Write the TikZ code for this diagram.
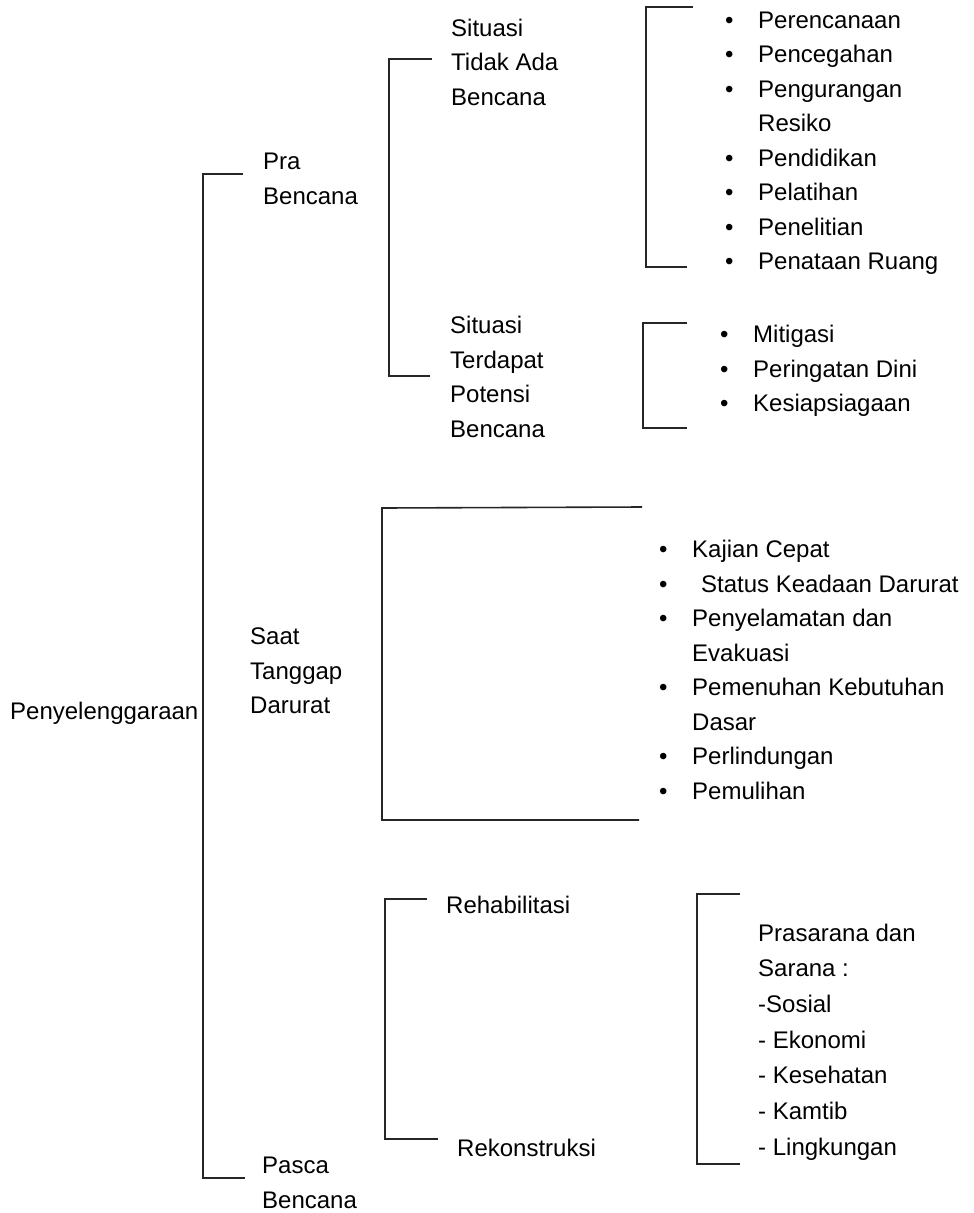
\documentclass[tikz,border=0pt]{standalone}
\usepackage{fontspec}
\setmainfont{Liberation Sans}
\newcommand{\bl}{\makebox[33pt][l]{\textbullet}}
\newcommand{\nb}{\hspace*{33pt}}
\begin{document}
\begin{tikzpicture}[x=1pt,y=-1pt,
  lbl/.style={font=\fontsize{24}{34.5}\selectfont, align=left, inner sep=0pt, anchor=west, text=black},
  brk/.style={line width=1.6pt, draw=black!85}]
\useasboundingbox[fill=white] (0,0) rectangle (974,1213);
% level 0
\node[lbl] (root) at (10,713) {Penyelenggaraan};
% level 1
\node[lbl] (pra) at (263,179) {Pra\\Bencana};
\node[lbl] (saat) at (250,671) {Saat\\Tanggap\\Darurat};
\node[lbl] (pasca) at (262,1183) {Pasca\\Bencana};
% level 2
\node[lbl] (tidak) at (451,62) {Situasi\\Tidak Ada\\Bencana};
\node[lbl] (potensi) at (450,377) {Situasi\\Terdapat\\Potensi\\Bencana};
\node[lbl] (rehab) at (446,905) {Rehabilitasi};
\node[lbl] (rekon) at (457,1148) {Rekonstruksi};
% lists
\node[lbl] (list1) at (725,143) {\bl Perencanaan\\\bl Pencegahan\\\bl Pengurangan\\\nb Resiko\\\bl Pendidikan\\\bl Pelatihan\\\bl Penelitian\\\bl Penataan Ruang};
\node[lbl] (list2) at (720,371) {\bl Mitigasi\\\bl Peringatan Dini\\\bl Kesiapsiagaan};
\node[lbl] (list3) at (659,670) {\bl Kajian Cepat\\\bl\hspace{9pt}Status Keadaan Darurat\\\bl Penyelamatan dan\\\nb Evakuasi\\\bl Pemenuhan Kebutuhan\\\nb Dasar\\\bl Perlindungan\\\bl Pemulihan};
\node[lbl, font=\fontsize{24}{35.7}\selectfont] (list4) at (758,1042) {Prasarana dan\\Sarana :\\-Sosial\\- Ekonomi\\- Kesehatan\\- Kamtib\\- Lingkungan};
% bracket coordinates
\coordinate (m1) at (243,174); \coordinate (m2) at (203,174);
\coordinate (m3) at (203,1178); \coordinate (m4) at (245,1178);
\coordinate (a1) at (432,59); \coordinate (a2) at (389,59);
\coordinate (a3) at (389,376); \coordinate (a4) at (430,376);
\coordinate (b1) at (693,7); \coordinate (b2) at (646,7);
\coordinate (b3) at (646,267); \coordinate (b4) at (687,267);
\coordinate (c1) at (687,323); \coordinate (c2) at (643,323);
\coordinate (c3) at (643,428); \coordinate (c4) at (687,428);
\coordinate (d1) at (642,507); \coordinate (d2) at (382,508);
\coordinate (d3) at (382,820); \coordinate (d4) at (639,820);
\coordinate (e1) at (427,899); \coordinate (e2) at (385,899);
\coordinate (e3) at (385,1139); \coordinate (e4) at (438,1139);
\coordinate (f1) at (740,894); \coordinate (f2) at (697,894);
\coordinate (f3) at (697,1164); \coordinate (f4) at (740,1164);
\draw[brk] (m1) -- (m2) -- (m3) -- (m4);
\draw[brk] (a1) -- (a2) -- (a3) -- (a4);
\draw[brk] (b1) -- (b2) -- (b3) -- (b4);
\draw[brk] (c1) -- (c2) -- (c3) -- (c4);
\draw[brk] (d1) -- (d2) -- (d3) -- (d4);
\draw[brk] (e1) -- (e2) -- (e3) -- (e4);
\draw[brk] (f1) -- (f2) -- (f3) -- (f4);
\end{tikzpicture}
\end{document}
